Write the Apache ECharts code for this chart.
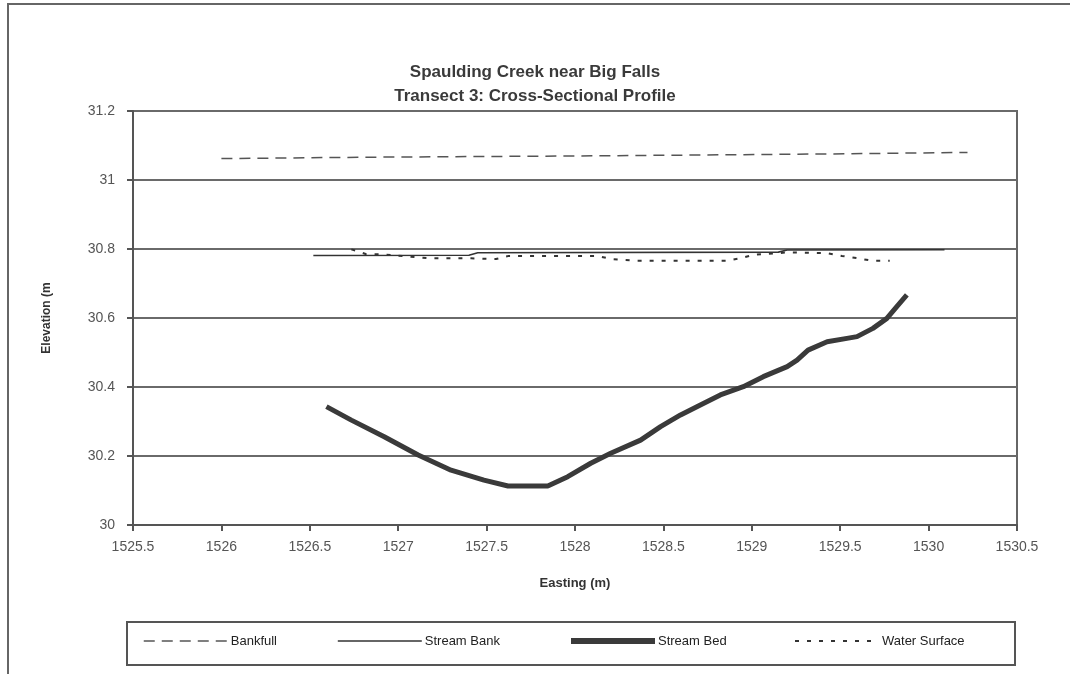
<!DOCTYPE html>
<html>
<head>
<meta charset="utf-8">
<script src="https://cdn.jsdelivr.net/npm/echarts@6/dist/echarts.min.js"></script>
<style>
html,body{margin:0;padding:0;background:#fff;}
#chart{width:1070px;height:674px;}
</style>
</head>
<body>
<div id="chart"></div>
<script>
// ---- data ----
var xTicks = [1525.5, 1526, 1526.5, 1527, 1527.5, 1528, 1528.5, 1529, 1529.5, 1530, 1530.5];
var yTicks = [30, 30.2, 30.4, 30.6, 30.8, 31, 31.2];

var bankfullX = [1526.0, 1526.8, 1528.1, 1529.55, 1530.22];
var bankfullY = [31.062, 31.066, 31.070, 31.076, 31.080];

var bankX = [1526.52, 1527.40, 1527.45, 1529.15, 1529.20, 1530.09];
var bankY = [30.781, 30.782, 30.789, 30.791, 30.797, 30.798];

var bedX = [1526.594, 1526.735, 1526.921, 1527.113, 1527.299, 1527.485, 1527.621, 1527.846, 1527.959, 1528.089, 1528.202, 1528.371, 1528.484, 1528.597, 1528.709, 1528.822, 1528.952, 1529.065, 1529.200, 1529.256, 1529.318, 1529.426, 1529.538, 1529.595, 1529.685, 1529.764, 1529.820, 1529.877];
var bedY = [30.343, 30.304, 30.256, 30.203, 30.159, 30.130, 30.113, 30.113, 30.140, 30.179, 30.208, 30.246, 30.285, 30.319, 30.348, 30.377, 30.401, 30.430, 30.459, 30.478, 30.507, 30.531, 30.541, 30.546, 30.570, 30.599, 30.633, 30.667];

var waterX = [1526.735, 1526.82, 1526.893, 1527.175, 1527.412, 1527.553, 1527.626, 1527.694, 1528.128, 1528.202, 1528.354, 1528.862, 1528.935, 1529.008, 1529.2, 1529.426, 1529.51, 1529.6, 1529.68, 1529.78];
var waterY = [30.799, 30.785, 30.785, 30.773, 30.773, 30.771, 30.780, 30.780, 30.780, 30.771, 30.766, 30.766, 30.773, 30.783, 30.790, 30.788, 30.780, 30.773, 30.766, 30.766];

var seriesNames = ['Bankfull', 'Stream Bank', 'Stream Bed', 'Water Surface'];

function zip(xs, ys) { return xs.map(function (x, i) { return [x, ys[i]]; }); }

var FONT = "'Liberation Sans', Arial, sans-serif";

var chart = echarts.init(document.getElementById('chart'));

function legendAt(name, left, lineWidth) {
  return {
    data: [name], left: left, top: 633, orient: 'horizontal',
    itemWidth: 84, itemHeight: 20, itemGap: 4,
    textStyle: { fontFamily: FONT, fontSize: 13, color: '#222', padding: [0, 0, 0, -2] },
    itemStyle: { color: 'transparent', borderColor: 'transparent', borderWidth: 0 },
    lineStyle: { width: lineWidth },
    padding: 0, selectedMode: false
  };
}

var option = {
  animation: false,
  backgroundColor: '#fff',
  title: {
    text: 'Spaulding Creek near Big Falls\nTransect 3: Cross-Sectional Profile',
    left: 'center', top: 55,
    textStyle: { fontFamily: FONT, fontSize: 17, fontWeight: 'bold', color: '#3a3a3a', lineHeight: 24 }
  },
  graphic: [
    { type: 'rect', shape: { x: 8, y: 4, width: 1100, height: 720 }, style: { fill: 'none', stroke: '#666', lineWidth: 2 }, silent: true, z: -1 },
    { type: 'rect', shape: { x: 127, y: 622, width: 888, height: 43 }, style: { fill: 'none', stroke: '#555', lineWidth: 2 }, silent: true }
  ],
  legend: [
    legendAt(seriesNames[0], 143, 1.5),
    legendAt(seriesNames[1], 337, 1.6),
    legendAt(seriesNames[2], 568, 6),
    legendAt(seriesNames[3], 794, 2)
  ],
  grid: {
    left: 133, right: 53, top: 111, bottom: 149,
    show: true, borderColor: '#666', borderWidth: 2, backgroundColor: 'transparent'
  },
  xAxis: {
    type: 'value',
    min: xTicks[0], max: xTicks[xTicks.length - 1], interval: xTicks[1] - xTicks[0],
    name: 'Easting (m)', nameLocation: 'middle', nameGap: 52,
    nameTextStyle: { fontFamily: FONT, fontSize: 13, fontWeight: 'bold', color: '#333' },
    axisLine: { show: true, lineStyle: { color: '#555', width: 2 } },
    axisTick: { show: true, inside: false, length: 6, lineStyle: { color: '#555', width: 2 } },
    axisLabel: { fontFamily: FONT, fontSize: 14, color: '#555', margin: 15, formatter: function (v) { return String(v); } },
    splitLine: { show: false }
  },
  yAxis: {
    type: 'value',
    min: yTicks[0], max: yTicks[yTicks.length - 1], interval: 0.2,
    name: 'Elevation (m', nameLocation: 'middle', nameGap: 80, nameRotate: 90,
    nameTextStyle: { fontFamily: FONT, fontSize: 12, fontWeight: 'bold', color: '#333' },
    axisLine: { show: true, lineStyle: { color: '#555', width: 2 } },
    axisTick: { show: true, inside: false, length: 6, lineStyle: { color: '#555', width: 2 } },
    axisLabel: { fontFamily: FONT, fontSize: 14, color: '#555', margin: 18, formatter: function (v) { return String(Math.round(v * 10) / 10); } },
    splitLine: { show: true, lineStyle: { color: '#6a6a6a', width: 2 } }
  },
  series: [
    { name: seriesNames[0], type: 'line', data: zip(bankfullX, bankfullY), symbol: 'none',
      lineStyle: { color: '#555', width: 1.5, type: [11, 7] }, itemStyle: { color: '#555' } },
    { name: seriesNames[1], type: 'line', data: zip(bankX, bankY), symbol: 'none',
      lineStyle: { color: '#333', width: 1.6 }, itemStyle: { color: '#333' } },
    { name: seriesNames[2], type: 'line', data: zip(bedX, bedY), symbol: 'none',
      lineStyle: { color: '#3a3a3a', width: 5 }, itemStyle: { color: '#3a3a3a' } },
    { name: seriesNames[3], type: 'line', data: zip(waterX, waterY), symbol: 'none',
      lineStyle: { color: '#333', width: 2, type: [4, 8] }, itemStyle: { color: '#333' } }
  ]
};
chart.setOption(option);
</script>
</body>
</html>
